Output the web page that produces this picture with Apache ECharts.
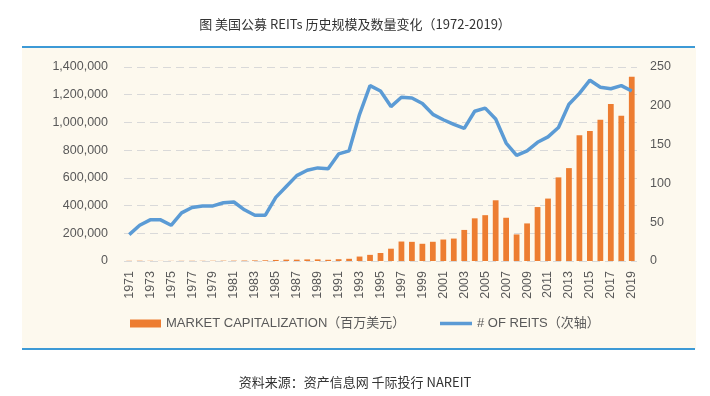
<!DOCTYPE html>
<html>
<head>
<meta charset="utf-8">
<script src="https://cdn.jsdelivr.net/npm/echarts@6/dist/echarts.min.js"></script>
<style>
  html, body { margin: 0; padding: 0; background: #fff; }
  #main { width: 710px; height: 396px; }
</style>
</head>
<body>
<div id="main"></div>
<script>
// years 1971-2019
const years = [];
for (let y = 1971; y <= 2019; y++) years.push(String(y));

// market capitalization, million USD (left axis)
const marketCap = [
  1494, 1881, 1394, 712, 900, 1308, 1528, 1412, 1754, 2299,
  2439, 3299, 4257, 5085, 7674, 9924, 9702, 11435, 11662, 8737,
  12968, 15912, 32159, 44306, 57541, 88776, 140534, 138301, 124262, 138715,
  154899, 161937, 224212, 307895, 330691, 438071, 312009, 191651, 271199, 389295,
  450501, 603415, 670334, 907429, 938852, 1018730, 1133698, 1047641, 1328806
];

// number of REITs (right axis)
const reitCount = [
  34, 46, 53, 53, 46, 62, 69, 71, 71, 75,
  76, 66, 59, 59, 82, 96, 110, 117, 120, 119,
  138, 142, 189, 226, 219, 199, 211, 210, 203, 189,
  182, 176, 171, 193, 197, 183, 152, 136, 142, 153,
  160, 172, 202, 216, 233, 224, 222, 226, 219
];

const barName = 'MARKET CAPITALIZATION（百万美元）';
const lineName = '# OF REITS（次轴）';

const chart = echarts.init(document.getElementById('main'));

const splitStyle = { show: true, lineStyle: { color: '#d9d9d9', type: [8, 5], width: 1 } };
const legendText = { fontSize: 13, color: '#595959', fontFamily: 'Liberation Sans, "Noto Sans CJK SC", sans-serif' };

const option = {
  backgroundColor: '#fff',
  animation: false,
  textStyle: { fontFamily: 'Liberation Sans, "Noto Sans CJK SC", sans-serif' },
  title: {
    text: '图 美国公募 REITs 历史规模及数量变化（1972-2019）',
    left: 'center',
    top: 13,
    textStyle: { fontSize: 13, fontWeight: 'normal', color: '#333', fontFamily: '"Noto Sans CJK SC", sans-serif' }
  },
  graphic: [
    { type: 'rect', z: -10, shape: { x: 22, y: 48, width: 674, height: 301 }, style: { fill: '#fdf9ee' } },
    { type: 'line', shape: { x1: 22, y1: 47, x2: 695, y2: 47 }, style: { stroke: '#3d9ad6', lineWidth: 2 } },
    { type: 'line', shape: { x1: 22, y1: 349, x2: 695, y2: 349 }, style: { stroke: '#3d9ad6', lineWidth: 2 } },
    {
      type: 'text', left: 'center', top: 376,
      style: { text: '资料来源：资产信息网 千际投行 NAREIT', fontSize: 13, fill: '#333', fontFamily: '"Noto Sans CJK SC", sans-serif' }
    }
  ],
  legend: [
    {
      top: 317, left: 130, padding: 0,
      itemWidth: 31, itemHeight: 8,
      icon: 'rect',
      textStyle: legendText,
      data: [barName]
    },
    {
      top: 317, left: 440, padding: 0,
      itemWidth: 32, itemHeight: 3.5,
      icon: 'rect',
      textStyle: legendText,
      data: [lineName]
    }
  ],
  grid: { left: 124, right: 73, top: 67, bottom: 135 },
  xAxis: {
    type: 'category',
    data: years,
    boundaryGap: true,
    axisLine: { show: false },
    axisTick: { show: false },
    axisLabel: { rotate: 90, interval: 1, fontSize: 12.5, color: '#595959', margin: 10 }
  },
  yAxis: [
    {
      type: 'value',
      min: 0, max: 1400000, interval: 200000,
      axisLine: { show: false },
      axisTick: { show: false },
      splitLine: splitStyle,
      axisLabel: {
        fontSize: 12.5, color: '#595959', margin: 16,
        formatter: v => v.toLocaleString('en-US')
      }
    },
    {
      type: 'value',
      min: 0, max: 250, interval: 50,
      axisLine: { show: false },
      axisTick: { show: false },
      splitLine: { show: false },
      axisLabel: { fontSize: 12.5, color: '#595959', margin: 13 }
    }
  ],
  series: [
    {
      name: barName,
      type: 'bar',
      data: marketCap,
      barWidth: '55%',
      itemStyle: { color: '#ed7d31' }
    },
    {
      name: lineName,
      type: 'line',
      yAxisIndex: 1,
      data: reitCount,
      symbol: 'none',
      lineStyle: { color: '#5b9bd5', width: 3.5 },
      itemStyle: { color: '#5b9bd5' }
    }
  ]
};

chart.setOption(option);
</script>
</body>
</html>
